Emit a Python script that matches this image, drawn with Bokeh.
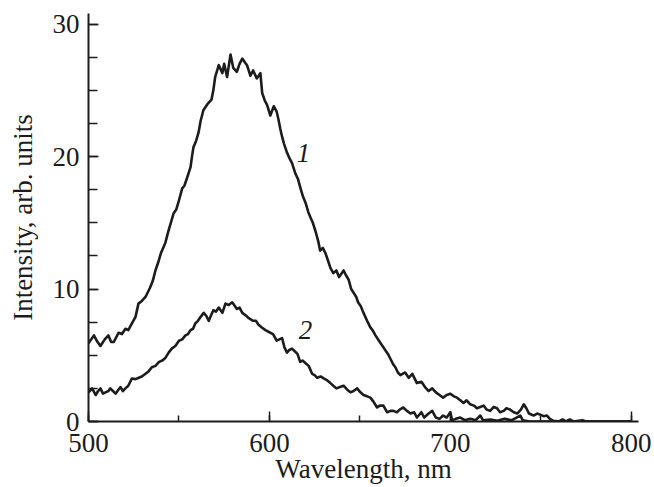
from bokeh.plotting import figure
from bokeh.models import SingleIntervalTicker, Label, Range1d
from bokeh.embed import file_html
from bokeh.resources import INLINE

# ---- data ----
wl1 = [500, 501.5, 503, 505, 506.6, 509, 511, 512.5, 514, 516.6, 518.5, 520.4, 522, 524, 526,
       527.6, 529.5, 531.5, 534, 535.5, 537, 538.5, 540, 542.5, 544, 545.5, 547, 548.5, 550,
       551.8, 553, 554.5, 556.4, 557.2, 558, 559.5, 560.8, 562, 563.5, 566, 568, 569, 570, 572,
       574, 575, 576.6, 578.5, 580, 582, 583.5, 585, 586.5, 587.6, 589.5, 591, 593, 595, 596,
       597.5, 598.7, 600.5, 602.4, 604, 605, 606, 607, 608, 609.7, 611, 612.5, 614.4, 615.8,
       617, 618.5, 620, 621.5, 622.7, 624, 625.4, 627, 628, 629.5, 631, 632.5, 633.7, 635.3,
       637, 638.5, 641, 642.5, 643.8, 645.2, 646.6, 648, 649, 650.5, 652, 654, 655.8, 657,
       658.6, 661, 662.5, 664, 665.5, 667, 668.5, 669.6, 671, 672.4, 675, 677, 679, 681.5,
       684, 686, 688, 690, 692, 694, 696, 698, 700, 702, 703.7, 705.5, 707.3, 709, 711, 713,
       714.7, 716.5, 718.4, 720, 722, 724, 725.8, 727.5, 729.5, 731, 733, 735, 737, 739,
       740.6, 742, 743.5, 746, 748, 750, 751.5, 753.4, 755, 757, 760, 762, 764, 766, 768,
       773, 775, 800]
int1 = [5.9, 6.2, 6.5, 6.0, 5.7, 6.2, 6.5, 6.0, 6.0, 6.7, 6.6, 7.0, 6.9, 7.4, 7.9,
        8.9, 9.1, 9.4, 10.1, 10.6, 11.4, 12.0, 12.7, 13.5, 14.3, 15.0, 15.7, 16.0, 16.7,
        17.6, 17.8, 18.4, 19.2, 20.0, 20.7, 21.2, 21.8, 22.7, 23.5, 24.0, 24.3, 25.0, 26.0, 26.9,
        26.3, 27.0, 26.0, 27.7, 26.7, 26.4, 27.0, 27.4, 27.1, 26.9, 26.1, 26.5, 25.9, 26.3, 24.8,
        24.2, 23.9, 23.1, 23.8, 23.4, 22.8, 22.1, 21.5, 21.0, 20.3, 19.9, 19.5, 18.7, 18.3,
        17.7, 17.0, 16.5, 15.8, 15.4, 15.0, 14.4, 13.6, 12.9, 13.1, 12.7, 12.1, 11.6, 11.2,
        11.4, 10.9, 11.4, 11.0, 10.7, 10.0, 9.7, 9.4, 9.0, 8.7, 8.2, 7.6, 7.1, 6.9,
        6.5, 6.0, 5.7, 5.4, 5.1, 4.7, 4.3, 4.1, 3.7, 3.5, 3.7, 3.3, 3.6, 2.9,
        3.0, 2.6, 2.3, 2.5, 2.2, 2.0, 1.8, 2.0, 2.1, 1.9, 1.8, 1.6, 1.4, 1.6, 1.3, 1.2,
        1.0, 1.1, 1.2, 0.9, 0.8, 1.1, 1.0, 0.7, 0.8, 1.0, 0.9, 0.7, 0.6, 0.9,
        1.3, 1.0, 0.6, 0.45, 0.6, 0.5, 0.4, 0.45, 0.2, 0.05, 0.0, 0.15, 0.0, 0.15, 0.0,
        0.1, 0.0, 0.0]

wl2 = [500, 502, 504, 505.3, 506.6, 508, 509.4, 511, 512, 513.5, 515, 516.5, 517.7, 519, 520.4,
       522, 524, 526, 527.8, 529.5, 531.5, 533.3, 535, 537, 539, 540.8, 542.5, 544.3, 546, 548,
       550, 551.8, 553.6, 555, 556.4, 557.8, 559, 560.5, 562, 563.7, 565, 566.5, 568, 569,
       570.5, 572, 574, 575.7, 577.5, 579.4, 581, 582, 583.5, 585, 587, 588.6, 591, 592.5, 594,
       595.8, 597.8, 600.5, 602, 604, 605.5, 607, 608.3, 609.7, 611, 612.5, 614, 615.5, 617,
       618.3, 620, 621.7, 623.6, 625, 626.4, 628.3, 630, 632, 633.7, 635.3, 637, 639, 641, 643,
       644.8, 646.5, 648.5, 650.3, 652, 654, 655.8, 657.5, 659.5, 661, 663, 665, 667, 668.5,
       670.5, 672, 674, 676, 678, 680, 681.5, 684, 685.5, 688, 690, 692, 694, 696, 698, 700,
       701, 703, 705.5, 708, 711, 714, 716.6, 718, 722, 726, 730, 734, 738.7, 740, 744, 800]
int2 = [2.2, 2.5, 2.0, 2.3, 2.5, 2.1, 2.2, 2.3, 2.5, 2.3, 2.1, 2.4, 2.6, 2.3, 2.5,
        2.7, 3.25, 3.2, 3.3, 3.4, 3.6, 3.8, 4.1, 4.2, 4.5, 4.6, 4.8, 5.2, 5.5, 5.7,
        6.1, 6.2, 6.5, 6.6, 6.9, 7.0, 7.4, 7.6, 7.9, 8.2, 8.0, 7.6, 8.1, 8.4,
        8.3, 8.6, 8.2, 8.9, 8.8, 9.0, 8.7, 8.5, 8.6, 8.2, 8.0, 7.8, 7.6, 7.6, 7.3,
        7.1, 6.9, 6.7, 6.6, 6.1, 6.2, 6.3, 5.6, 5.2, 5.4, 5.5, 5.3, 5.1, 4.5,
        4.6, 4.4, 4.2, 3.6, 3.5, 3.3, 3.4, 3.25, 3.1, 2.9, 2.7, 2.5, 2.6, 2.7, 2.4,
        2.2, 2.3, 2.5, 2.2, 2.0, 1.9, 1.8, 1.5, 1.06, 1.2, 1.2, 0.7, 0.8, 0.8,
        0.7, 0.9, 1.06, 0.8, 0.6, 0.7, 0.3, 0.7, 0.3, 0.6, 0.8, 0.3, 0.2, 0.45, 0.3, 0.7,
        0.1, 0.2, 0.3, 0.1, 0.2, 0.1, 0.45, 0.1, 0.15, 0.05, 0.2, 0.1, 0.45, 0.1, 0.0, 0.0]

curve_labels = ["1", "2"]
label_x = [618.8, 620.0]
label_y = [20.3, 6.9]

x_title = "Wavelength, nm"
y_title = "Intensity, arb. units"

FONT = "Liberation Serif"
INK = "#1c1c1c"
FS = "27px"

p = figure(width=654, height=487, output_backend="svg", toolbar_location=None,
           x_range=Range1d(500, 804), y_range=Range1d(0, 30.8),
           min_border_left=88, min_border_right=16, min_border_top=13, min_border_bottom=66)
p.outline_line_color = None
p.grid.visible = False
p.background_fill_color = "white"
p.border_fill_color = "white"

p.line(wl1, int1, line_color=INK, line_width=2.6, line_join="round")
p.line(wl2, int2, line_color=INK, line_width=2.6, line_join="round")

for t, lx, ly in zip(curve_labels, label_x, label_y):
    p.add_layout(Label(x=lx, y=ly, text=t, text_font=FONT, text_font_style="italic",
                       text_font_size=FS, text_color=INK,
                       text_align="center", text_baseline="middle"))

p.xaxis.ticker = SingleIntervalTicker(interval=100, num_minor_ticks=2)
p.yaxis.ticker = SingleIntervalTicker(interval=10, num_minor_ticks=4)

for ax in (p.xaxis[0], p.yaxis[0]):
    ax.axis_line_width = 2
    ax.axis_line_color = INK
    ax.major_tick_line_color = INK
    ax.minor_tick_line_color = INK
    ax.major_tick_line_width = 1.5
    ax.minor_tick_line_width = 1.5
    ax.major_tick_out = 0
    ax.minor_tick_out = 0
    ax.major_label_text_font = FONT
    ax.major_label_text_font_size = FS
    ax.major_label_text_color = INK
    ax.axis_label_text_font = FONT
    ax.axis_label_text_font_size = FS
    ax.axis_label_text_font_style = "normal"
    ax.axis_label_text_color = INK

p.xaxis.major_label_standoff = 12
p.yaxis.major_label_standoff = 9
p.xaxis.major_tick_in = 10
p.xaxis.minor_tick_in = 6
p.yaxis.major_tick_in = 10
p.yaxis.minor_tick_in = 9

p.yaxis.axis_label = y_title
p.yaxis.axis_label_standoff = 12

p.xaxis.axis_label = x_title
p.xaxis.axis_label_standoff = -1

open("out.html", "w").write(file_html(p, INLINE))
